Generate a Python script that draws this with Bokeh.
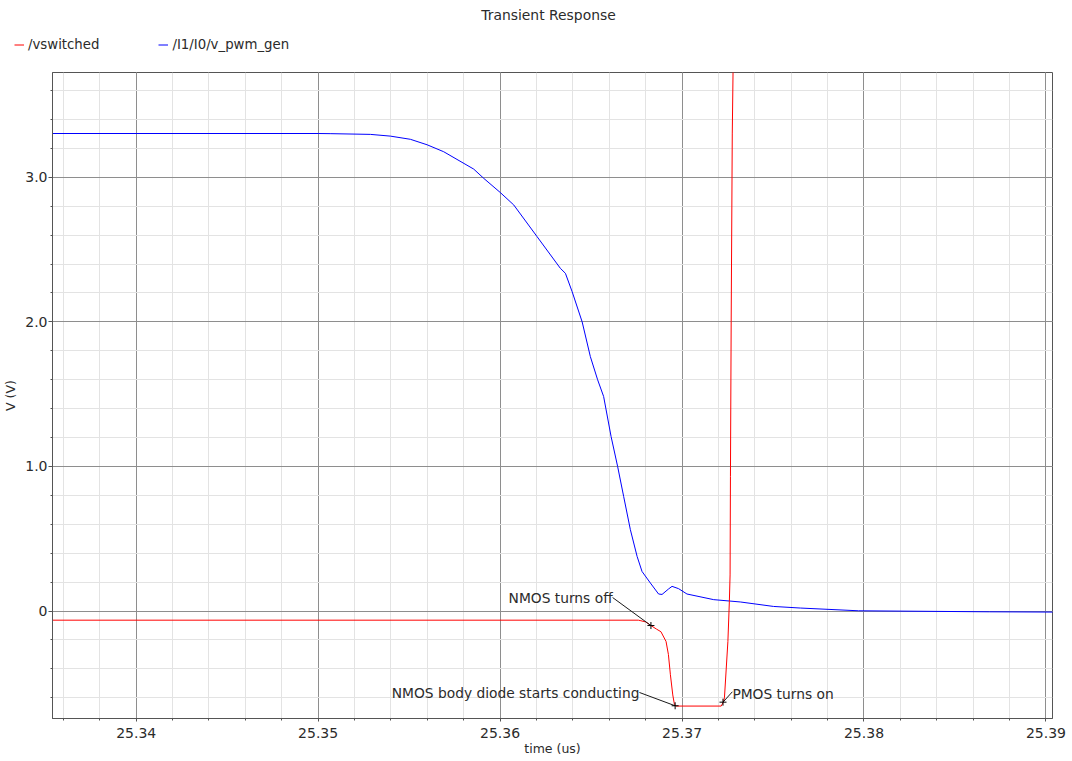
import numpy as np
from bokeh.plotting import figure
from bokeh.layouts import column
from bokeh.models import (Range1d, FixedTicker, Legend, LegendItem, Label,
                          CustomJSTickFormatter)
from bokeh.core.properties import value
from bokeh.embed import file_html
from bokeh.resources import INLINE

# ---------------- data ----------------
vsw_t = [25.3354, 25.3676, 25.36774, 25.36800, 25.36829, 25.36860, 25.36884,
         25.36912, 25.36925, 25.36936, 25.36949, 25.36958, 25.36967, 25.37215,
         25.37227, 25.37233, 25.37252, 25.37260, 25.37264, 25.37266, 25.37270,
         25.37276, 25.37282]
vsw_v = [-0.063, -0.063, -0.067, -0.075, -0.100, -0.125, -0.143,
         -0.210, -0.300, -0.440, -0.580, -0.645, -0.657, -0.657,
         -0.630, -0.600, -0.210, 0.064, 0.250, 0.930, 2.000,
         3.300, 3.900]

pwm_t = [25.3354, 25.3500, 25.3507, 25.35287, 25.35397, 25.35507, 25.35599,
         25.3569, 25.35855, 25.3591, 25.3600, 25.36075, 25.36203, 25.36331,
         25.36359, 25.36396, 25.36451, 25.36496, 25.36536, 25.36569, 25.3661,
         25.36646, 25.36679, 25.36716, 25.36753, 25.3678, 25.36826, 25.36871,
         25.3689, 25.36926, 25.36945, 25.36981, 25.37027, 25.37174, 25.3732,
         25.37503, 25.3765, 25.3797, 25.3869, 25.3904]
pwm_v = [3.303, 3.303, 3.302, 3.297, 3.285, 3.263, 3.225,
         3.177, 3.057, 2.993, 2.896, 2.809, 2.590, 2.371,
         2.336, 2.209, 2.000, 1.760, 1.600, 1.484, 1.207,
         1.000, 0.793, 0.563, 0.378, 0.274, 0.194, 0.118,
         0.115, 0.153, 0.171, 0.155, 0.118, 0.079, 0.063,
         0.032, 0.021, 0.002, -0.005, -0.007]

x_ticks = [25.34, 25.35, 25.36, 25.37, 25.38, 25.39]
x_tick_labels = ["25.34", "25.35", "25.36", "25.37", "25.38", "25.39"]
y_ticks = [0, 1, 2, 3]
y_tick_labels = ["0", "1.0", "2.0", "3.0"]

ann_text = ["NMOS turns off", "NMOS body diode starts conducting", "PMOS turns on"]
ann_t = [25.36829, 25.36962, 25.37225]
ann_v = [-0.100, -0.655, -0.630]

series_names = ["/vswitched", "/I1/I0/v_pwm_gen"]
title_text = "Transient Response"

# ---------------- layout / style ----------------
X0, X1 = 25.3354, 25.39036
Y0, Y1 = -0.743, 3.725
W = 1072
HDR_H = 64
MAIN_H = 697
FRAME_W, FRAME_H = 1000, 646
FONT = "DejaVu Sans"
TXT = "#2b2b2b"
AXC = "#555555"
RED = "#ff0000"
BLUE = "#0000ff"

# leader line start (screen px relative to marker), text align, extra baseline px
ann_dx = [-38.3, -35.7, 9.4]
ann_dy = [-28.0, -13.3, -10.4]
ann_align = ["right", "right", "left"]
ann_base = [0.6, 0.3, 2.7]

pxx = FRAME_W / (X1 - X0)
pxy = FRAME_H / (Y1 - Y0)

# ---------- header: title + legend ----------
hdr = figure(width=W, height=HDR_H, x_range=Range1d(0, W), y_range=Range1d(0, HDR_H),
             output_backend="svg", toolbar_location=None, min_border=0,
             x_axis_type=None, y_axis_type=None, outline_line_color=None,
             background_fill_color="white", border_fill_color="white")
hdr.grid.visible = False
hdr.add_layout(Label(x=548, y=50, text=title_text, text_align="center",
                     text_baseline="alphabetic", text_font=FONT,
                     text_font_size="13.9px", text_color=TXT))
# hidden proxies of the two series, used only for the legend swatches
lg_sw = hdr.line(vsw_t, vsw_v, line_color=RED, line_width=1, visible=False)
lg_pwm = hdr.line(pwm_t, pwm_v, line_color=BLUE, line_width=1, visible=False)
legend = Legend(items=[LegendItem(label=series_names[0], renderers=[lg_sw]),
                       LegendItem(label=series_names[1], renderers=[lg_pwm])],
                orientation="horizontal", location=(14, 12.5), margin=0,
                padding=0, spacing=59, glyph_width=10, glyph_height=15,
                label_height=15, label_standoff=4, border_line_color=None,
                background_fill_alpha=0, inactive_fill_alpha=0,
                label_text_font=FONT,
                label_text_font_size="13.3px", label_text_color=TXT)
hdr.add_layout(legend, "center")

# ---------- main plot ----------
p = figure(width=W, height=MAIN_H, x_range=Range1d(X0, X1), y_range=Range1d(Y0, Y1),
           output_backend="svg", toolbar_location=None,
           min_border_left=52, min_border_right=20, min_border_top=8,
           min_border_bottom=43, background_fill_color="white",
           border_fill_color="white")

for fig in (hdr, p):
    try:
        fig.frame_align = False
    except Exception:
        pass

x_minor = list(np.round(np.arange(25.336, 25.3905, 0.002), 4))
y_minor = list(np.round(np.arange(-0.6, 3.61, 0.2), 2))
xt = FixedTicker(ticks=x_ticks, minor_ticks=x_minor)
yt = FixedTicker(ticks=y_ticks, minor_ticks=y_minor)
p.xaxis.ticker = xt
p.yaxis.ticker = yt
p.xgrid.ticker = xt
p.ygrid.ticker = yt
p.xaxis.formatter = CustomJSTickFormatter(args=dict(t=x_ticks, l=x_tick_labels), code="""
    for (let i = 0; i < t.length; i++) { if (Math.abs(t[i] - tick) < 1e-6) return l[i]; }
    return tick.toFixed(2);""")
p.yaxis.formatter = CustomJSTickFormatter(args=dict(t=y_ticks, l=y_tick_labels), code="""
    for (let i = 0; i < t.length; i++) { if (Math.abs(t[i] - tick) < 1e-6) return l[i]; }
    return tick.toFixed(1);""")

for g in (p.xgrid[0], p.ygrid[0]):
    g.grid_line_color = "#8e8e8e"
    g.grid_line_width = 1
    g.minor_grid_line_color = "#e3e3e3"
    g.minor_grid_line_width = 1

for ax in (p.xaxis[0], p.yaxis[0]):
    ax.axis_line_color = AXC
    ax.axis_line_width = 1
    ax.major_tick_line_color = AXC
    ax.minor_tick_line_color = AXC
    ax.major_tick_in = 0
    ax.minor_tick_in = 0
    ax.major_tick_out = 4
    ax.minor_tick_out = 2
    ax.major_label_text_font = FONT
    ax.major_label_text_font_size = "14px"
    ax.major_label_text_color = TXT
    ax.axis_label_text_font = FONT
    ax.axis_label_text_font_size = "12.5px"
    ax.axis_label_text_font_style = "normal"
    ax.axis_label_text_color = TXT

p.xaxis.major_tick_out = 3
p.xaxis.major_label_standoff = 6
p.xaxis.axis_label = "time (us)"
p.xaxis.axis_label_standoff = 0
p.yaxis.major_label_standoff = 1
p.yaxis.axis_label = "V (V)"
p.yaxis.axis_label_standoff = 4

p.outline_line_color = AXC
p.outline_line_width = 1

r_pwm = p.line(pwm_t, pwm_v, line_color=BLUE, line_width=1)
r_sw = p.line(vsw_t, vsw_v, line_color=RED, line_width=1)

for i in range(len(ann_text)):
    sx = ann_t[i] + ann_dx[i] / pxx
    sy = ann_v[i] - ann_dy[i] / pxy
    p.segment(x0=[ann_t[i]], y0=[ann_v[i]], x1=[sx], y1=[sy],
              line_color="#1a1a1a", line_width=1)
    p.text(x=[sx], y=[sy - ann_base[i] / pxy], text=[ann_text[i]],
           text_align=ann_align[i], text_baseline="alphabetic",
           text_font=value(FONT), text_font_size=value("13.8px"),
           text_color=TXT)
p.scatter(ann_t, ann_v, marker="cross", size=7, line_color="#000000",
          line_width=1)

layout = column(hdr, p, spacing=0)
open("out.html", "w").write(file_html(layout, INLINE))
